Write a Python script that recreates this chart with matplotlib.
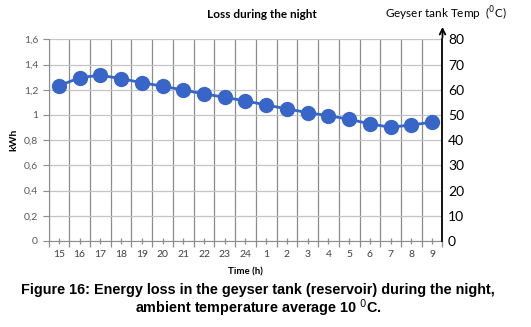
import matplotlib
matplotlib.use('Agg')
import matplotlib.pyplot as plt
import matplotlib.ticker as ticker
import numpy as np

hours = ['15', '16', '17', '18', '19', '20', '21', '22', '23', '24',
         '1', '2', '3', '4', '5', '6', '7', '8', '9']
loss_kwh = [1.23, 1.296, 1.315, 1.288, 1.256, 1.228, 1.198, 1.167, 1.140, 1.111,
            1.079, 1.048, 1.018, 0.994, 0.966, 0.929, 0.902, 0.921, 0.942]
temp_ticks = [0, 10, 20, 30, 40, 50, 60, 70, 80]

blue = '#3866c8'
W, H = 531, 327

fig = plt.figure(figsize=(W / 100, H / 100), dpi=100)
ax = fig.add_axes([48.5 / W, 1 - 241 / H, 394 / W, (241 - 39.3) / H])

x = np.arange(len(hours))
ax.plot(x, loss_kwh, color=blue, lw=2, marker='o', ms=10, zorder=3)

ax.set_xlim(-0.5, len(hours) - 0.5)
ax.set_ylim(0, 1.6)

# сетка: вертикальные линии на границах категорий
ax.xaxis.set_major_locator(ticker.FixedLocator(np.arange(-0.5, len(hours), 1)))
ax.xaxis.set_major_formatter(ticker.NullFormatter())
ax.xaxis.set_minor_locator(ticker.FixedLocator(x))
ax.xaxis.set_minor_formatter(ticker.FixedFormatter(hours))
ax.yaxis.set_major_locator(ticker.MultipleLocator(0.2))
ax.yaxis.set_major_formatter(ticker.FuncFormatter(
    lambda v, p: '0' if abs(v) < 1e-9 else ('1' if abs(v - 1) < 1e-9 else f'{v:.1f}'.replace('.', ','))))

ax.grid(axis='x', which='major', color='#8c8c8c', lw=0.9)
ax.grid(axis='y', which='major', color='#c4c4c4', lw=0.9)
ax.set_axisbelow(True)

ax.tick_params(axis='x', which='major', length=4, color='#8c8c8c', width=0.9)
ax.tick_params(axis='x', which='minor', length=5, direction='inout', color='#8c8c8c',
               width=0.9, labelsize=7.5, labelcolor='#404040', pad=4)
ax.tick_params(axis='y', length=4, color='#8c8c8c', labelsize=7.5, labelcolor='#595959')
for lab in ax.get_xticklabels(minor=True) + ax.get_yticklabels():
    lab.set_family('Lato')

for s in ['left', 'bottom', 'top']:
    ax.spines[s].set_color('#8c8c8c')
ax.spines['top'].set_visible(False)
ax.spines['right'].set_visible(False)

ax.set_ylabel('kWh', fontsize=7.5, fontweight='bold', family='Lato', labelpad=4)
ax.set_xlabel('Time (h)', fontsize=7, fontweight='bold', family='Lato', labelpad=6)

# правая ось температуры
ax2 = ax.twinx()
ax2.set_ylim(0, 80)
ax2.set_yticks(temp_ticks)
ax2.tick_params(axis='y', length=0, labelsize=10, pad=4)
for lab in ax2.get_yticklabels():
    lab.set_family('Lato')
for s in ['left', 'bottom', 'top']:
    ax2.spines[s].set_visible(False)
ax2.spines['right'].set_color('black')
ax2.spines['right'].set_linewidth(1.3)
ax2.annotate('', xy=(1, 1.075), xycoords='axes fraction', xytext=(1, 0.995),
             arrowprops=dict(arrowstyle='->', color='black', lw=1.3))

fig.text(262 / W, 1 - 15 / H, 'Loss during the night', ha='center', va='center',
         fontsize=8.5, fontweight='bold', family='Lato')
fig.text(446 / W, 1 - 14 / H, 'Geyser tank Temp  ($^0$C)', ha='center', va='center',
         fontsize=8.5, family='Lato')

fig.text(258 / W, 1 - 290 / H,
         'Figure 16: Energy loss in the geyser tank (reservoir) during the night,',
         ha='center', va='center', fontsize=10.4, fontweight='bold', family='Liberation Sans')
fig.text(258 / W, 1 - 308 / H, 'ambient temperature average 10 $^0$C.',
         ha='center', va='center', fontsize=10.4, fontweight='bold', family='Liberation Sans')

fig.savefig('out.png', dpi=100)
